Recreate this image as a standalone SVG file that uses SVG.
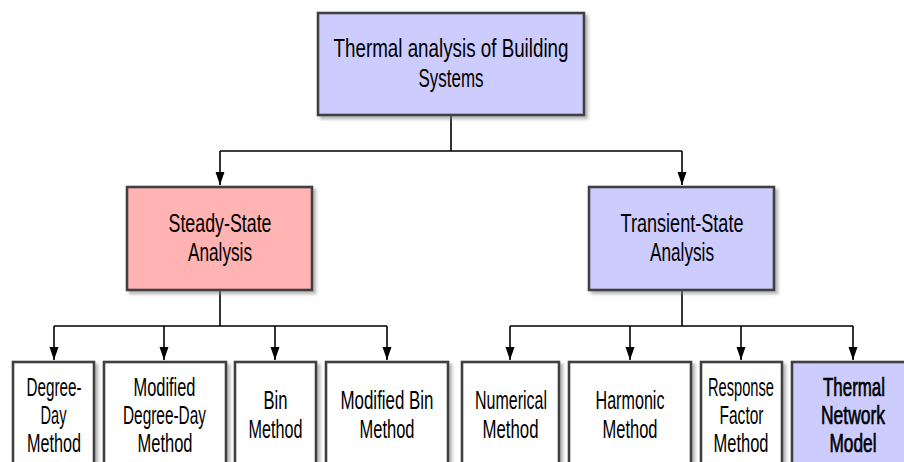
<svg xmlns="http://www.w3.org/2000/svg" width="904" height="462" viewBox="0 0 904 462">
<defs>
<filter id="sh" x="-10%" y="-10%" width="130%" height="130%">
<feDropShadow dx="3" dy="3" stdDeviation="1.5" flood-color="#808080" flood-opacity="0.55"/>
</filter>
<marker id="ah" markerUnits="userSpaceOnUse" markerWidth="14" markerHeight="10" refX="13" refY="4.5" orient="auto">
<path d="M0,0 L13,4.5 L0,9 Z" fill="#000"/>
</marker>
<style>
.box{stroke:#404040;stroke-width:2.6;filter:url(#sh)}
.blue{fill:#ccccff}
.red{fill:#ffb3b3}
.white{fill:#ffffff}
text{font-family:"Liberation Sans",Arial,sans-serif;font-size:25px;fill:#000;text-anchor:middle}
.b{stroke:#000;stroke-width:0.7}
.c{fill:none;stroke:#000;stroke-width:1.6}
.a{marker-end:url(#ah)}
</style>
</defs>
<g id="connectors">
<path class="c" d="M451 115 V151 M220 151 H682"/>
<path class="c a" d="M220 151 V185"/>
<path class="c a" d="M682 151 V185"/>
<path class="c" d="M220 290 V326 M54 326 H387"/>
<path class="c a" d="M54 326 V360"/>
<path class="c a" d="M164 326 V360"/>
<path class="c a" d="M275 326 V360"/>
<path class="c a" d="M387 326 V360"/>
<path class="c" d="M682 290 V326 M510 326 H853"/>
<path class="c a" d="M510 326 V360"/>
<path class="c a" d="M630 326 V360"/>
<path class="c a" d="M741 326 V360"/>
<path class="c a" d="M853 326 V360"/>
</g>
<g id="root">
<rect class="box blue" x="318" y="13" width="266" height="102"/>
<text x="451" y="57" textLength="235" lengthAdjust="spacingAndGlyphs">Thermal analysis of Building</text>
<text x="451" y="87" textLength="65" lengthAdjust="spacingAndGlyphs">Systems</text>
</g>
<g id="steady">
<rect class="box red" x="127" y="187" width="185" height="103"/>
<text x="220" y="232" textLength="103" lengthAdjust="spacingAndGlyphs">Steady-State</text>
<text x="220" y="261" textLength="64" lengthAdjust="spacingAndGlyphs">Analysis</text>
</g>
<g id="transient">
<rect class="box blue" x="589" y="187" width="185" height="103"/>
<text x="682" y="232" textLength="123" lengthAdjust="spacingAndGlyphs">Transient-State</text>
<text x="682" y="261" textLength="64" lengthAdjust="spacingAndGlyphs">Analysis</text>
</g>
<g id="degreeday">
<rect class="box white" x="13" y="362" width="81" height="106"/>
<text x="54" y="396" textLength="55" lengthAdjust="spacingAndGlyphs">Degree-</text>
<text x="53.5" y="424" textLength="26" lengthAdjust="spacingAndGlyphs">Day</text>
<text x="54" y="452" textLength="54" lengthAdjust="spacingAndGlyphs">Method</text>
</g>
<g id="moddegreeday">
<rect class="box white" x="104" y="362" width="122" height="106"/>
<text x="164.5" y="396" textLength="62" lengthAdjust="spacingAndGlyphs">Modified</text>
<text x="164.5" y="424" textLength="83" lengthAdjust="spacingAndGlyphs">Degree-Day</text>
<text x="165" y="452" textLength="55" lengthAdjust="spacingAndGlyphs">Method</text>
</g>
<g id="bin">
<rect class="box white" x="235" y="362" width="81" height="106"/>
<text x="275.5" y="409" textLength="24" lengthAdjust="spacingAndGlyphs">Bin</text>
<text x="275.5" y="438" textLength="54" lengthAdjust="spacingAndGlyphs">Method</text>
</g>
<g id="modbin">
<rect class="box white" x="326" y="362" width="122" height="106"/>
<text x="387" y="409" textLength="93" lengthAdjust="spacingAndGlyphs">Modified Bin</text>
<text x="387" y="438" textLength="55" lengthAdjust="spacingAndGlyphs">Method</text>
</g>
<g id="numerical">
<rect class="box white" x="462" y="362" width="97" height="106"/>
<text x="511" y="409" textLength="72" lengthAdjust="spacingAndGlyphs">Numerical</text>
<text x="510.5" y="438" textLength="56" lengthAdjust="spacingAndGlyphs">Method</text>
</g>
<g id="harmonic">
<rect class="box white" x="569" y="362" width="122" height="106"/>
<text x="630" y="409" textLength="69" lengthAdjust="spacingAndGlyphs">Harmonic</text>
<text x="630" y="438" textLength="55" lengthAdjust="spacingAndGlyphs">Method</text>
</g>
<g id="response">
<rect class="box white" x="701" y="362" width="81" height="106"/>
<text x="741" y="396" textLength="66" lengthAdjust="spacingAndGlyphs">Response</text>
<text x="741.5" y="424" textLength="44" lengthAdjust="spacingAndGlyphs">Factor</text>
<text x="741" y="452" textLength="55" lengthAdjust="spacingAndGlyphs">Method</text>
</g>
<g id="thermalnetwork">
<rect class="box blue" x="792" y="362" width="122" height="106"/>
<text class="b" x="854" y="396" textLength="62" lengthAdjust="spacingAndGlyphs">Thermal</text>
<text class="b" x="853" y="424" textLength="64" lengthAdjust="spacingAndGlyphs">Network</text>
<text class="b" x="853" y="452" textLength="47" lengthAdjust="spacingAndGlyphs">Model</text>
</g>
</svg>
